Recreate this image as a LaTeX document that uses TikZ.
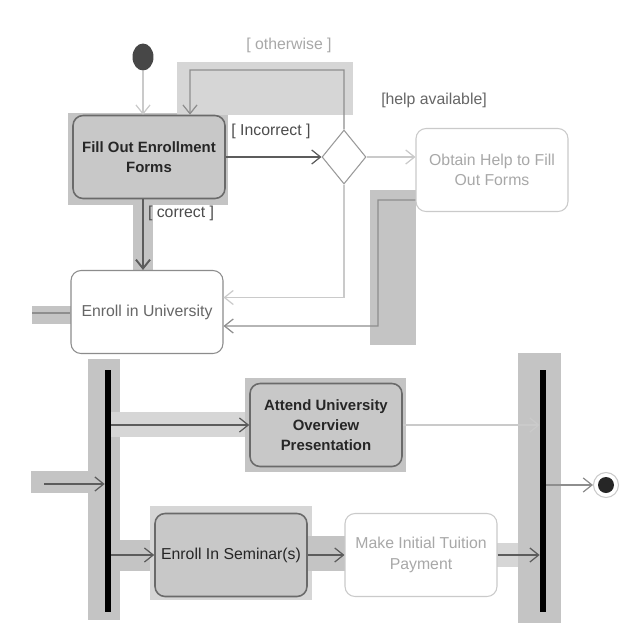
\documentclass[tikz,border=0pt]{standalone}
\usepackage{fontspec}
\setmainfont{Liberation Sans}
\usetikzlibrary{arrows.meta,shapes.geometric}
\definecolor{hl}{HTML}{C4C4C4}
\definecolor{hlsoft}{HTML}{D6D6D6}
\definecolor{actfill}{HTML}{C8C8C8}
\definecolor{actline}{HTML}{6A6A6A}
\definecolor{pale}{HTML}{CACACA}
\definecolor{paletext}{HTML}{A8A8A8}
\definecolor{darkflow}{HTML}{5C5C5C}
\definecolor{midflow}{HTML}{8E8E8E}
\tikzset{
  act/.style={rectangle, rounded corners=0.2cm, align=center, inner sep=2pt,
    minimum width=3.04cm, minimum height=1.66cm,
    font=\fontsize{9}{11.5}\selectfont},
  hot/.style={act, draw=actline, line width=0.9pt, fill=actfill, text=black!85},
  hotbold/.style={hot, font=\bfseries\fontsize{8.5}{11.5}\selectfont},
  cold/.style={act, draw=pale, line width=0.6pt, fill=white, text=paletext},
  coldmid/.style={act, draw=black!45, line width=0.6pt, fill=white, text=black!60},
  bar/.style={rectangle, fill=black, inner sep=0, minimum width=0.12cm, minimum height=4.84cm},
  flow/.style={-{Straight Barb[length=5pt,width=8pt]}, line width=0.7pt},
  hotflow/.style={flow, draw=darkflow},
  midline/.style={flow, draw=midflow},
  coldflow/.style={flow, draw=pale},
  guard/.style={font=\fontsize{9}{11}\selectfont, inner sep=1pt},
  band/.style={fill=hl, draw=none},
  softband/.style={fill=hlsoft, draw=none},
}
\begin{document}
\begin{tikzpicture}[x=0.02cm, y=-0.02cm]
\useasboundingbox[fill=white] (0,0) rectangle (640,640);

% highlight regions behind the flows and actions
\path[band] (68,113) rectangle (228,205);
\path[softband] (177,62) rectangle (353,115);
\path[band] (133,198) rectangle (153,271);
\path[band] (370,190) rectangle (416,345);
\path[band] (32,306) rectangle (72,324);
\path[band] (88,359) rectangle (120,620);
\path[band] (31,471) rectangle (103,493);
\path[softband] (110,412) rectangle (248,437);
\path[band] (245,378) rectangle (406,472);
\path[band] (110,540) rectangle (155,571);
\path[softband] (150,506) rectangle (312,600);
\path[band] (308,536) rectangle (345,571);
\path[softband] (497,543) rectangle (540,567);
\path[band] (518,353) rectangle (561,623);

% nodes
\node[ellipse, fill=black!72, inner sep=0, minimum width=0.42cm, minimum height=0.54cm] (init) at (143,57) {};
\node[hotbold] (fill) at (149,157) {Fill Out Enrollment\\Forms};
\node[diamond, draw=black!40, line width=0.6pt, fill=white, inner sep=0,
      minimum width=0.88cm, minimum height=1.08cm] (dec) at (344,157) {};
\node[cold] (help) at (492,170) {Obtain Help to Fill\\Out Forms};
\node[coldmid] (enroll) at (147,312) {Enroll in University};
\node[bar] (fork) at (108,491) {};
\node[hotbold] (attend) at (326,425) {Attend University\\Overview\\Presentation};
\node[hot] (seminar) at (231,555) {Enroll In Seminar(s)};
\node[cold] (pay) at (421,555) {Make Initial Tuition\\Payment};
\node[bar] (join) at (543,491) {};
\node[circle, draw=pale, line width=0.6pt, fill=white, inner sep=0, minimum size=0.5cm] (final) at (606,485) {};
\fill[black!85] (final) circle (0.16cm);

% control flows
\draw[coldflow] (init) -- (init |- fill.north);
\draw[midline] (dec.north) |- (190,70) -- ([xshift=0.82cm]fill.north);
\node[guard, text=paletext] (lother) at (289,45) {[ otherwise ]};
\draw[hotflow] (fill.east) -- (dec.west);
\node[guard, text=black!70] (lincorr) at (271,131) {[ Incorrect ]};
\draw[coldflow] (dec.east) -- (dec.east -| help.west);
\node[guard, text=black!60] (lhelp) at (434,100) {[help available]};
\draw[coldflow] (dec.south) |- ([yshift=0.29cm]enroll.east);
\draw[midline] ([yshift=-0.6cm]help.west) -| (378,326) -- ([yshift=-0.28cm]enroll.east);
\draw[hotflow, line width=1.1pt] (fill.south -| 143,0) -- (enroll.north -| 143,0);
\node[guard, text=black!70] (lcorr) at (181,213) {[ correct ]};
\coordinate (enrsrc) at (32,313);
\draw[midflow, line width=1pt] (enrsrc) -- (enrsrc -| enroll.west);

\coordinate (forksrc) at (44,484);
\draw[hotflow] (forksrc) -- (forksrc -| fork.west);
\draw[hotflow] (fork.east |- attend.west) -- (attend.west);
\draw[hotflow] (fork.east |- seminar.west) -- (seminar.west);
\draw[hotflow] (seminar.east) -- (pay.west);
\draw[coldflow] (attend.east) -- (attend.east -| join.west);
\draw[hotflow] (pay.east) -- (pay.east -| join.west);
\draw[midline] (join.east |- final) -- (final);
\end{tikzpicture}
\end{document}
